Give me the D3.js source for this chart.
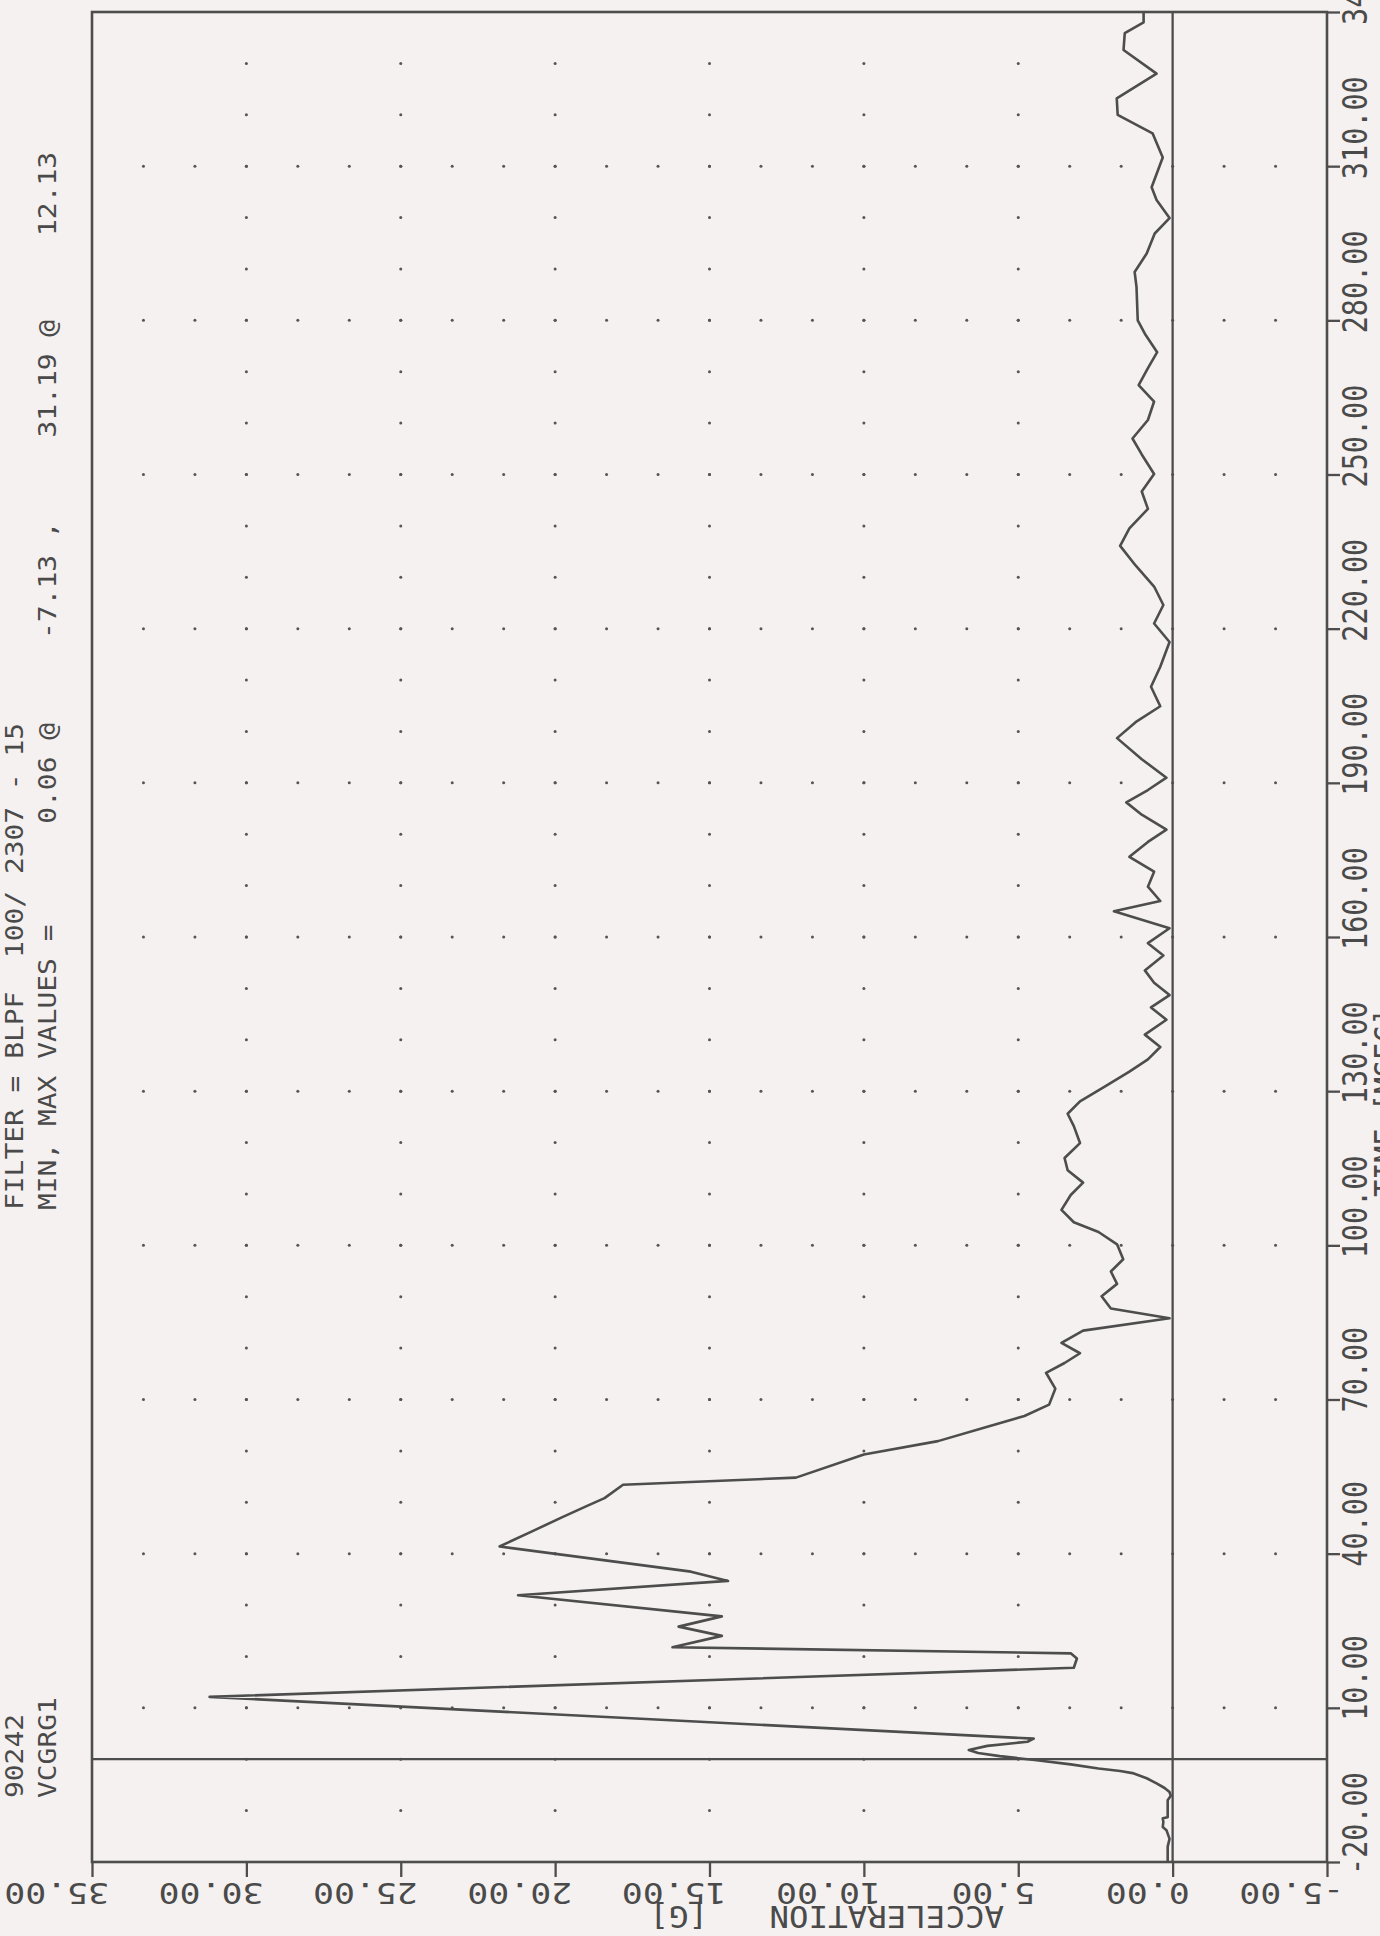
<!DOCTYPE html>
<html><head><meta charset="utf-8">
<script src="https://cdn.jsdelivr.net/npm/d3@7"></script>
<style>
html,body{margin:0;padding:0;background:#f5f1f0;}
svg{display:block;}
text{font-family:"DejaVu Sans Mono",monospace;fill:#4a4a4a;white-space:pre;}
</style></head><body>
<svg id="c" width="1380" height="1936"></svg>
<script>
// ---- data (time in ms, acceleration in G) ----
const timeMs = [-20,-17,-15.5,-13.8,-13.2,-12.2,-11.5,-11.3,-8,-7.13,-6.4,-5.6,-4.7,-3.7,-2.7,-2.3,-1.8,
 -1.0,-0.2,0.6,1.2,1.8,2.6,3.4,4.0,12.13,17.8,19.6,20.6,21.8,24.0,25.8,27.8,31.9,34.7,36.5,41.4,44.2,47.0,49.2,50.8,53.4,54.8,59.3,61.9,64.7,66.8,69.0,72.1,75.2,77.1,79.0,81.0,83.4,85.8,
 87.7,90.1,92.5,94.9,97.3,100.2,102.6,104.5,106.9,109.8,112.2,114.6,117.0,119.9,123.2,125.6,128.0,130.9,133.8,136.2,138.6,141.0,143.9,146.3,148.7,151.1,153.5,156.4,158.8,161.7,165.0,167.0,169.8,172.7,175.6,178.5,180.9,183.8,186.2,188.6,191.0,194.6,198.7,201.8,204.9,208.7,212.6,217.4,221.0,224.6,228.2,232.3,236.1,239.5,243.3,246.7,250.1,253.9,257.0,260.6,264.2,267.4,270.7,273.8,277.4,
 280,286.5,289.4,293,296.9,299.9,303.4,305.9,311.7,316.4,320,323.2,328,332.6,335.9,338,340];
const accelG = [0.16,0.16,0.1,0.2,0.32,0.3,0.32,0.16,0.16,0.06,0.1,0.26,0.52,0.84,1.3,1.7,2.4,
 3.3,4.4,5.6,6.3,6.6,6.0,4.7,4.5,31.19,3.2,3.1,3.3,16.2,14.6,16.0,14.6,21.2,14.4,15.6,21.8,20.8,19.8,19.0,18.4,17.8,12.2,10.0,7.6,6.0,4.8,4.0,3.8,4.1,3.5,3.0,3.6,2.9,0.1,
 2.0,2.3,1.8,2.0,1.6,1.8,2.4,3.2,3.6,3.3,2.9,3.4,3.5,3.0,3.2,3.4,3.0,2.2,1.4,0.8,0.4,0.9,0.2,0.7,0.1,0.6,0.9,0.3,0.8,0.1,1.9,0.4,0.8,0.6,1.4,0.8,0.2,1.0,1.5,0.8,0.2,1.0,1.8,1.2,0.4,0.7,0.4,0.1,0.6,0.3,0.6,1.2,1.7,1.4,0.8,1.0,0.6,1.0,1.3,0.8,0.6,1.1,0.8,0.5,0.9,
 1.13,1.17,1.23,0.84,0.58,0.1,0.52,0.68,0.32,0.65,1.78,1.81,0.52,1.59,1.55,0.94,0.94];

const timeTicks = [-20,10,40,70,100,130,160,190,220,250,280,310,340];
const timeTickLabels = ["-20.00","10.00","40.00","70.00","100.00","130.00","160.00","190.00","220.00","250.00","280.00","310.00","340.00"];
const accTicks = [35,30,25,20,15,10,5,0,-5];
const accTickLabels = ["35.00","30.00","25.00","20.00","15.00","10.00","5.00","0.00","-5.00"];
const timeTitle = "TIME [MSEC]";
const accTitle = "ACCELERATION";
const accUnit = "[G]";
const headerIds = ["90242","VCGRG1"];
const headerLines = ["FILTER = BLPF  100/ 2307 - 15",
                     "MIN, MAX VALUES =      0.06 @     -7.13 ,     31.19 @     12.13"];

// ---- layout ----
const L = {left:92, right:1327, top:12, bottom:1862};
const ink = "#4d4d4d";
const svg = d3.select("#c");
svg.append("rect").attr("width",1380).attr("height",1936).attr("fill","#f5f1f0");

const x = d3.scaleLinear().domain([35,-5]).range([L.left,L.right]);
const y = d3.scaleLinear().domain([-20,340]).range([L.bottom,L.top]);

// grid dots
const dots = [];
timeTicks.filter(t=>t>-20 && t<340).forEach(t=>{
  for(let k=1;k<24;k++){ dots.push([35-k*5/3, t]); }
});
accTicks.filter(a=>a<35 && a>-5 && a!==0).forEach(a=>{
  for(let k=1;k<36;k++){ dots.push([a, -20+k*10]); }
});
svg.append("g").selectAll("circle").data(dots).join("circle")
  .attr("cx",d=>x(d[0])).attr("cy",d=>y(d[1])).attr("r",1.5).attr("fill","#555");

// frame and reference lines
svg.append("rect").attr("x",L.left).attr("y",L.top).attr("width",L.right-L.left).attr("height",L.bottom-L.top)
  .attr("fill","none").attr("stroke",ink).attr("stroke-width",2.6);
svg.append("line").attr("x1",x(0)).attr("x2",x(0)).attr("y1",L.top).attr("y2",L.bottom)
  .attr("stroke",ink).attr("stroke-width",2.3);
svg.append("line").attr("x1",L.left).attr("x2",L.right).attr("y1",y(0)).attr("y2",y(0))
  .attr("stroke",ink).attr("stroke-width",2.3);

// axes ticks
const ax = svg.append("g").attr("transform",`translate(0,${L.bottom})`)
  .call(d3.axisBottom(x).tickValues(accTicks).tickSize(15).tickFormat(""));
ax.select(".domain").remove();
ax.selectAll("line").attr("stroke",ink).attr("stroke-width",2.3);
const ay = svg.append("g").attr("transform",`translate(${L.right},0)`)
  .call(d3.axisRight(y).tickValues(timeTicks).tickSize(13).tickFormat(""));
ay.select(".domain").remove();
ay.selectAll("line").attr("stroke",ink).attr("stroke-width",2.3);

// time tick labels (rotated, reading bottom to top)
svg.append("g").selectAll("text").data(timeTicks).join("text")
  .attr("transform",(d)=>`translate(1367,${y(d)+13}) rotate(-90) scale(0.95,1.14)`)
  .attr("font-size",30).text((d,i)=>timeTickLabels[i]);
svg.append("text").attr("transform",`translate(1399,1197) rotate(-90) scale(0.95,1.14)`)
  .attr("font-size",30).text(timeTitle);

// acceleration tick labels (upside down)
svg.append("g").selectAll("text").data(accTicks).join("text")
  .attr("transform",(d)=>`translate(${x(d)+17},1883) rotate(180) scale(1.2,0.98)`)
  .attr("font-size",29).text((d,i)=>accTickLabels[i]);
svg.append("text").attr("transform",`translate(1004,1906) rotate(180) scale(1.12,1.04)`)
  .attr("font-size",29).text(accTitle);
svg.append("text").attr("transform",`translate(708,1906) rotate(180) scale(1.12,1.04)`)
  .attr("font-size",29).text(accUnit);

// header (rotated, fixed pitch)
const pitch = 16.8, hfs = 24;
const hsx = pitch/(0.602*hfs);
const hBase = [23,56];
headerIds.forEach((s,i)=>svg.append("text")
  .attr("transform",`translate(${hBase[i]},1798) rotate(-90) scale(${hsx},1.0)`)
  .attr("font-size",hfs).text(s));
headerLines.forEach((s,i)=>svg.append("text")
  .attr("transform",`translate(${hBase[i]},1210) rotate(-90) scale(${hsx},1.0)`)
  .attr("font-size",hfs).text(s));

// trace
const pts = timeMs.map((t,i)=>[t,accelG[i]]);
svg.append("path").datum(pts)
  .attr("d",d3.line().x(d=>x(d[1])).y(d=>y(d[0])))
  .attr("fill","none").attr("stroke",ink).attr("stroke-width",2.6).attr("stroke-linejoin","round");
</script>
</body></html>
